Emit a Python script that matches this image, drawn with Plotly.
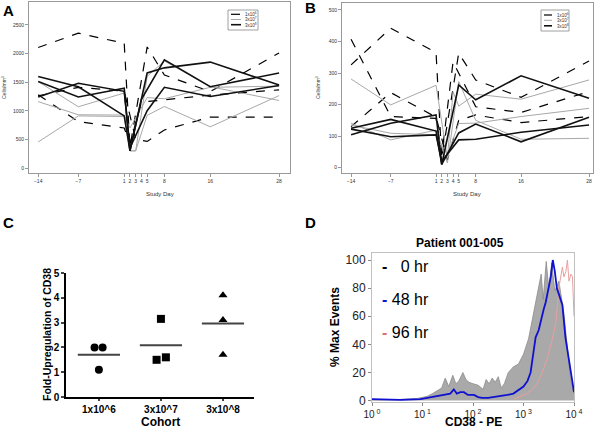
import plotly.graph_objects as go
import numpy as np

# ---- Panel A: cells/mm3 by study day (three dose cohorts) ----
study_days_ticks = [-14, -7, 1, 2, 3, 4, 5, 8, 16, 28]

a_days = {
    'd1': [-14, -7, 1, 2, 5, 8, 16, 28],
    'd2': [-14, -7, 1, 2, 4, 8, 16, 28],
    'd3': [-14, -7, 1, 3, 5, 8, 16, 28],
    'g1': [-14, -7, 1, 2, 3, 5, 8, 16, 28],
    'g2': [-14, -7, 1, 2, 5, 8, 16, 28],
    'g3': [-14, -7, 1, 2, 3, 5, 8, 16, 28],
    'k1': [-14, -7, 1, 2, 5, 8, 16, 28],
    'k2': [-14, -7, 1, 2, 4, 8, 16, 28],
    'k3': [-14, -7, 1, 2, 5, 8, 16, 28],
}
a_vals = {
    'd1': [2105, 2355, 2180, 370, 2115, 1625, 1335, 2010],
    'd2': [1280, 810, 700, 420, 1150, 1190, 1275, 1365],
    'd3': [1260, 1410, 1340, 500, 465, 665, 890, 890],
    'g1': [1510, 1070, 1310, 300, 300, 1600, 1870, 1420, 1180],
    'g2': [1160, 930, 925, 700, 1230, 1210, 1410, 1430],
    'g3': [455, 910, 900, 300, 300, 920, 1075, 720, 1265],
    'k1': [1510, 1240, 1395, 300, 1660, 1750, 1850, 1450],
    'k2': [1600, 1420, 910, 300, 1200, 1890, 1420, 1660],
    'k3': [1240, 1480, 1340, 350, 1000, 1410, 1250, 1440],
}

# ---- Panel B ----
b_days = {
    'd1': [-14, -7, 1, 2, 5, 8, 16, 28],
    'd2': [-14, -7, 1, 2, 4, 8, 16, 28],
    'd3': [-14, -7, 1, 3, 5, 8, 16, 28],
    'g1': [-14, -7, 1, 3, 4, 5, 8, 16, 28],
    'g2': [-14, -7, 1, 3, 5, 8, 16, 28],
    'g3': [-14, -7, 1, 3, 5, 8, 16, 28],
    'k1': [-14, -7, 1, 2, 5, 8, 16, 28],
    'k2': [-14, -7, 1, 2, 5, 8, 16, 28],
    'k3': [-14, -7, 1, 2, 5, 8, 16, 28],
}
b_vals = {
    'd1': [326, 442, 365, 30, 363, 278, 223, 338],
    'd2': [407, 162, 156, 40, 335, 193, 175, 241],
    'd3': [130, 238, 160, 25, 150, 167, 143, 162],
    'g1': [281, 199, 261, 30, 240, 195, 233, 217, 278],
    'g2': [141, 88, 119, 15, 273, 150, 90, 93],
    'g3': [135, 109, 104, 40, 140, 141, 162, 188],
    'k1': [125, 153, 116, 10, 262, 215, 291, 220],
    'k2': [104, 141, 167, 10, 110, 138, 82, 160],
    'k3': [122, 98, 104, 20, 88, 90, 112, 135],
}

cohort_legend = ['1x10<sup>6</sup>', '3x10<sup>7</sup>', '3x10<sup>8</sup>']

# ---- Panel C: fold-upregulation of CD38 ----
cohorts = ['1x10^6', '3x10^7', '3x10^8']
fold_values = [[2.0, 2.0, 1.1], [3.15, 1.5, 1.6], [4.1, 3.1, 1.7]]
fold_jitter = [[-0.07, 0.06, 0.0], [0.0, -0.07, 0.08], [0.0, 0.0, 0.0]]
fold_symbols = ['circle', 'square', 'triangle-up']

# ---- Panel D: CD38-PE histograms (log10 of intensity, % max events) ----
hr0_log = [0, 0.3, 0.56, 0.89, 1.09, 1.2, 1.29, 1.38, 1.45, 1.52, 1.6, 1.66, 1.72, 1.8,
           1.86, 1.92, 2.0, 2.1, 2.2, 2.26, 2.32, 2.38, 2.44, 2.5, 2.56, 2.62, 2.7, 2.8,
           2.9, 3.0, 3.1, 3.17, 3.24, 3.3, 3.35, 3.39, 3.45, 3.5, 3.56, 3.62, 3.7, 3.8,
           3.87, 3.93, 4.0]
hr0_pct = [0.5, 0.5, 0.8, 1.5, 3, 5, 7, 9, 16, 10, 18, 12, 14, 20,
           15, 13, 12, 11, 8, 15, 12, 16, 13, 17, 9, 12, 20, 24,
           26, 33, 44, 57, 70, 82, 90, 72, 99, 80, 98, 78, 85, 62,
           38, 16, 5]
hr48_log = [0, 0.3, 0.56, 0.96, 1.22, 1.35, 1.42, 1.55, 1.62, 1.68, 1.75, 1.82, 1.9, 2.02,
            2.1, 2.18, 2.3, 2.41, 2.55, 2.68, 2.8, 2.88, 3.0, 3.08, 3.14, 3.2, 3.24, 3.3,
            3.34, 3.4, 3.44, 3.5, 3.54, 3.58, 3.62, 3.66, 3.7, 3.74, 3.77, 3.83, 3.9, 3.97, 4.0]
hr48_pct = [1, 0.8, 0.5, 1, 3, 3.5, 4, 5, 8, 5, 6, 6, 4, 4,
            2.5, 2, 2, 2.5, 3, 4, 5, 7, 10, 14, 20, 35, 45, 50,
            57, 65, 70, 80, 88, 100, 92, 80, 75, 70, 68, 45, 30, 14, 6]
hr96_log = [2.81, 2.95, 3.07, 3.17, 3.27, 3.37, 3.47, 3.56, 3.64, 3.7, 3.74, 3.77, 3.8,
            3.84, 3.87, 3.9, 3.94, 3.97, 4.0]
hr96_pct = [1, 3, 5, 8, 12, 20, 30, 42, 55, 80, 90, 95, 88, 92, 100, 85, 90, 88, 60]

W, H = 600, 430
FONT = 'Liberation Sans'


def px(x):
    return x / W


def py(y):
    return 1 - y / H


series_style = {
    'd': dict(color='black', width=1.2, dash='dash'),
    'g': dict(color='#a8a8a8', width=1.0),
    'k': dict(color='#111111', width=1.6),
}

fig = go.Figure()

# Panels A and B
for days, vals, xa, ya in [(a_days, a_vals, 'x', 'y'), (b_days, b_vals, 'x2', 'y2')]:
    for key in vals:
        fig.add_trace(go.Scatter(
            x=days[key], y=vals[key], mode='lines',
            line=series_style[key[0]], xaxis=xa, yaxis=ya, showlegend=False,
        ))

# Panel C
for i, (vals, jit, sym) in enumerate(zip(fold_values, fold_jitter, fold_symbols)):
    fig.add_trace(go.Scatter(
        x=[i + j for j in jit], y=vals, mode='markers',
        marker=dict(symbol=sym, size=8, color='black'),
        xaxis='x3', yaxis='y3', showlegend=False,
    ))
    m = float(np.mean(vals))
    fig.add_trace(go.Scatter(
        x=[i - 0.34, i + 0.34], y=[m, m], mode='lines',
        line=dict(color='#444444', width=2),
        xaxis='x3', yaxis='y3', showlegend=False,
    ))

# Panel D
fig.add_trace(go.Scatter(
    x=10 ** np.array(hr0_log), y=hr0_pct, mode='lines', fill='tozeroy',
    line=dict(color='#8c8c8c', width=0.8), fillcolor='#a9a9a9',
    xaxis='x4', yaxis='y4', showlegend=False,
))
fig.add_trace(go.Scatter(
    x=10 ** np.array(hr96_log), y=hr96_pct, mode='lines',
    line=dict(color='#e8a0a0', width=1),
    xaxis='x4', yaxis='y4', showlegend=False,
))
fig.add_trace(go.Scatter(
    x=10 ** np.array(hr48_log), y=hr48_pct, mode='lines',
    line=dict(color='#1010d0', width=1.8),
    xaxis='x4', yaxis='y4', showlegend=False,
))

ab_axis = dict(showgrid=False, zeroline=False, showline=True, mirror=True,
               linecolor='#999999', linewidth=1, ticks='outside', ticklen=3,
               tickcolor='#999999', tickfont=dict(size=5, color='#333'),
               automargin=False)
plain = dict(showgrid=False, zeroline=False, automargin=False)

fig.update_layout(
    template='none',
    width=W, height=H,
    margin=dict(l=0, r=0, t=0, b=0),
    plot_bgcolor='white', paper_bgcolor='white',
    font=dict(family=FONT, color='black'),
    xaxis=dict(ab_axis, domain=[px(29), px(290)], range=[-15.6, 29.9],
               tickvals=study_days_ticks, anchor='y'),
    yaxis=dict(ab_axis, domain=[py(173), py(2)], range=[-87, 2900],
               tickvals=[0, 500, 1000, 1500, 2000, 2500], anchor='x'),
    xaxis2=dict(ab_axis, domain=[px(342), px(593)], range=[-15.6, 28.7],
                tickvals=study_days_ticks, anchor='y2'),
    yaxis2=dict(ab_axis, domain=[py(173), py(3)], range=[-17, 522],
                tickvals=[0, 100, 200, 300, 400, 500], anchor='x2'),
    xaxis3=dict(plain, domain=[px(66), px(254)], range=[-0.53, 2.5],
                showline=True, linecolor='black', linewidth=1.5,
                ticks='outside', ticklen=2, tickwidth=1.5, tickvals=[0, 1, 2],
                ticktext=cohorts, tickfont=dict(size=10, weight='bold'), anchor='y3'),
    yaxis3=dict(plain, domain=[py(397), py(273)], range=[0, 5],
                showline=True, linecolor='black', linewidth=1.5,
                ticks='outside', ticklen=3, tickwidth=1.5, tickvals=[0, 1, 2, 3, 4, 5],
                tickfont=dict(size=10, weight='bold'), anchor='x3'),
    xaxis4=dict(plain, domain=[px(372), px(574)], type='log', range=[0, 4],
                showline=True, mirror=True, linecolor='#c0c0c0',
                ticks='outside', ticklen=3, tickcolor='#888',
                tickvals=[1, 10, 100, 1000, 10000],
                ticktext=['10<sup> 0</sup>', '10<sup> 1</sup>', '10<sup> 2</sup>',
                          '10<sup> 3</sup>', '10<sup> 4</sup>'],
                tickfont=dict(size=10, color='#222'), anchor='y4'),
    yaxis4=dict(plain, domain=[py(402), py(253)], range=[-1, 105],
                showline=True, mirror=True, linecolor='#c0c0c0',
                ticks='outside', ticklen=3, tickcolor='#888',
                tickvals=[0, 20, 40, 60, 80, 100],
                tickfont=dict(size=12, color='#222'), anchor='x4'),
)

ann = []
shapes = []


def text(x, y, s, size, bold=False, angle=0, xanchor='center', color='black'):
    ann.append(dict(x=px(x), y=py(y), xref='paper', yref='paper', text=s,
                    showarrow=False, textangle=angle, xanchor=xanchor, yanchor='middle',
                    font=dict(size=size, color=color, family=FONT,
                              weight='bold' if bold else 'normal')))


# Panel letters
text(8, 10, 'A', 15, bold=True)
text(310, 8, 'B', 15, bold=True)
text(8, 222, 'C', 15, bold=True)
text(310, 222, 'D', 15, bold=True)

# A/B axis titles
text(160, 194, 'Study Day', 6, color='#333')
text(467, 194, 'Study Day', 6, color='#333')
text(4, 88, 'Cells/mm<sup>3</sup>', 5, angle=-90, color='#333')
text(318, 88, 'Cells/mm<sup>3</sup>', 5, angle=-90, color='#333')

# A/B legends drawn as boxes
for box, rows, lx, tx in [((228, 10, 258, 30), (14.3, 19.5, 24.7), (231, 241), 243),
                          ((541, 10, 569, 31), (15, 20.3, 25.8), (544, 552), 555)]:
    shapes.append(dict(type='rect', xref='paper', yref='paper',
                       x0=px(box[0]), x1=px(box[2]), y0=py(box[3]), y1=py(box[1]),
                       line=dict(color='#888888', width=0.8)))
    for row, key, lab in zip(rows, ['d', 'g', 'k'], cohort_legend):
        st = series_style[key]
        shapes.append(dict(type='line', xref='paper', yref='paper',
                           x0=px(lx[0]), x1=px(lx[1]), y0=py(row), y1=py(row),
                           line=dict(color=st['color'], width=st['width'],
                                     dash='dash' if key == 'd' else 'solid')))
        text(tx, row, lab, 4.5, xanchor='left', color='#333')

# Panel C titles
text(47, 335, 'Fold-Upregulation of CD38', 10.5, bold=True, angle=-90)
text(160, 422, 'Cohort', 12, bold=True)

# Panel D titles and legend
text(460, 243, 'Patient 001-005', 12, bold=True)
text(473, 422, 'CD38 - PE', 12, bold=True)
text(335, 327, '% Max Events', 12, bold=True, angle=-90)
for y, col, lab in [(266, 'black', '  0 hr'), (299, '#1010d0', '48 hr'), (332, '#e07070', '96 hr')]:
    text(380, y, '<span style="color:%s"><b>-</b></span> %s' % (col, lab), 16, xanchor='left')

fig.update_layout(annotations=ann, shapes=shapes)

# the page's default 8px body margin would shift the figure; remove it
fig.write_html("out.html", config={'displayModeBar': False},
               post_script="document.body.style.margin='0';")
